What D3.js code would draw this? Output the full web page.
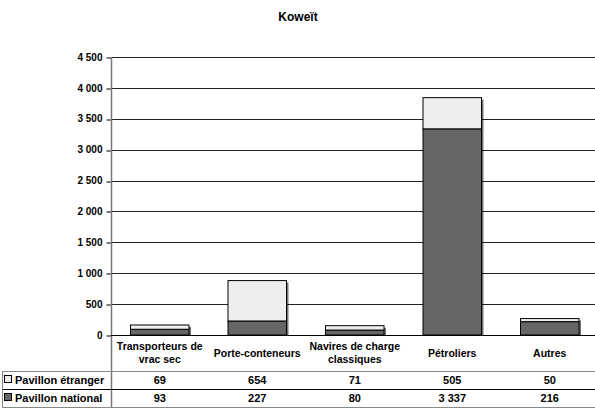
<!DOCTYPE html>
<html><head><meta charset="utf-8">
<script src="https://cdn.jsdelivr.net/npm/d3@7"></script>
<style>body{margin:0;background:#fff}svg{display:block;font-family:"Liberation Sans",Arial,sans-serif}</style>
</head><body><svg id="c" width="595" height="411"></svg>
<script>
const categories = [["Transporteurs de","vrac sec"],["Porte-conteneurs"],["Navires de charge","classiques"],["Pétroliers"],["Autres"]];
const seriesNames = ["Pavillon étranger","Pavillon national"];
const national = [93,227,80,3337,216];
const foreign = [69,654,71,505,50];
const yTicks = [0,500,1000,1500,2000,2500,3000,3500,4000,4500];
const title = "Koweït";

const svg = d3.select("#c");
const fmt = v => d3.format(",")(v).replace(/,/g," ");
const idx = d3.range(categories.length);
const x = d3.scaleBand().domain(idx).range([111,598.5]).paddingInner(0.4).paddingOuter(0.2);
const y = d3.scaleLinear().domain([0,4500]).range([335,57]);

svg.append("text").attr("x",298).attr("y",21).attr("text-anchor","middle")
  .attr("font-weight","bold").attr("font-size",12).text(title);

// gridlines
svg.append("g").selectAll("line").data(yTicks.slice(1)).join("line")
  .attr("x1",111).attr("x2",595).attr("y1",d=>Math.round(y(d))+0.5).attr("y2",d=>Math.round(y(d))+0.5)
  .attr("stroke","#222").attr("stroke-width",1);

// axis
const ax = svg.append("g").attr("transform","translate(111.5,0)")
  .call(d3.axisLeft(y).tickValues(yTicks).tickSize(5).tickPadding(4).tickFormat(fmt));
ax.select(".domain").remove();
ax.selectAll(".tick line").attr("stroke","#000").attr("transform",d=>`translate(0,${Math.round(y(d))+0.5-y(d)})`);
ax.selectAll(".tick text").attr("font-weight","bold").attr("font-size",10).attr("fill","#000")
  .attr("font-family","Liberation Sans, Arial, sans-serif");

// bars
const stacks = idx.map(i=>({i, n:national[i], f:foreign[i]}));
const bg = svg.append("g");
bg.selectAll("rect.sh").data(stacks).join("rect")
  .attr("x",d=>x(d.i)+2).attr("y",d=>y(d.n+d.f)+2).attr("width",x.bandwidth())
  .attr("height",d=>y(0)-y(d.n+d.f)-2).attr("fill","#000").attr("opacity",0.55);
bg.selectAll("rect.n").data(stacks).join("rect")
  .attr("x",d=>x(d.i)).attr("y",d=>y(d.n)).attr("width",x.bandwidth())
  .attr("height",d=>y(0)-y(d.n)).attr("fill","#666").attr("stroke","#000").attr("stroke-width",1);
bg.selectAll("rect.f").data(stacks).join("rect")
  .attr("x",d=>x(d.i)).attr("y",d=>y(d.n+d.f)).attr("width",x.bandwidth())
  .attr("height",d=>y(d.n)-y(d.n+d.f)).attr("fill","#eee").attr("stroke","#000").attr("stroke-width",1);

// axis line
svg.append("line").attr("x1",111.5).attr("x2",111.5).attr("y1",57).attr("y2",407)
  .attr("stroke","#777").attr("stroke-width",1.5);
svg.append("line").attr("x1",111).attr("x2",595).attr("y1",335.5).attr("y2",335.5)
  .attr("stroke","#000").attr("stroke-width",1);

// category labels
const cl = svg.append("g");
idx.forEach(i=>{
  const lines = categories[i];
  const cx = x(i)+x.bandwidth()/2;
  const base = lines.length===1 ? 356.5 : 349.5;
  lines.forEach((t,k)=>{
    cl.append("text").attr("x",cx).attr("y",base+k*13).attr("text-anchor","middle")
      .attr("font-weight","bold").attr("font-size",10.5).text(t);
  });
});

// table
const rowsY = [371,389,407];
rowsY.forEach((yy,k)=>{
  svg.append("line").attr("x1",2).attr("x2",595).attr("y1",yy+0.5).attr("y2",yy+0.5)
    .attr("stroke",k===1?"#000":"#888").attr("stroke-width",1.2);
});
svg.append("line").attr("x1",2.5).attr("x2",2.5).attr("y1",371).attr("y2",407).attr("stroke","#888");
const rowData = [foreign, national];
const keyFill = ["#eee","#666"];
rowData.forEach((vals,r)=>{
  const cy = 380 + r*18;
  svg.append("rect").attr("x",4.5).attr("y",cy-4.5).attr("width",7).attr("height",7)
    .attr("fill",keyFill[r]).attr("stroke","#000").attr("stroke-width",1);
  svg.append("text").attr("x",15).attr("y",cy+4).attr("font-weight","bold").attr("font-size",11).text(seriesNames[r]);
  svg.append("g").selectAll("text").data(idx).join("text")
    .attr("x",i=>x(i)+x.bandwidth()/2).attr("y",cy+4).attr("text-anchor","middle")
    .attr("font-weight","bold").attr("font-size",11).text(i=>fmt(vals[i]));
});
</script></body></html>
